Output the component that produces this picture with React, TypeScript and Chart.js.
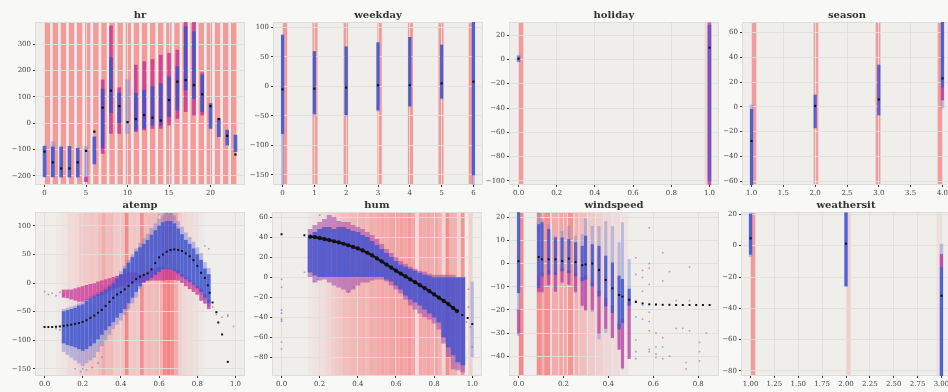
import { useEffect, useRef } from 'react';
import { Chart, registerables } from 'chart.js';
Chart.register(...registerables);

// ---------------- data: hr ----------------
const HR_X = [0, 1, 2, 3, 4, 5, 6, 7, 8, 9, 10, 11, 12, 13, 14, 15, 16, 17, 18, 19, 20, 21, 22, 23];
const HR_MEAN = [-108, -149, -172, -172, -149, -105, -32, 59, 124, 65, 4, 16, 31, 21, 10, 88, 158, 164, 145, 110, 65, 16, -48, -119];
const HR_BLUE_LO = [-204, -204, -205, -205, -205, null, -155, -95, 40, 0, null, -26, -20, -7, -7, 25, 50, 126, 94, 44, -20, -51, -83, -108];
const HR_BLUE_HI = [-87, -90, -90, -88, -95, null, -52, 130, 250, 115, null, 114, 126, 139, 151, 177, 215, 367, 348, 183, 75, 18, -26, -45];
const HR_MAG_LO = [null, null, null, null, null, -222, null, -115, -39, -39, null, -32, -26, -20, -20, -7, 18, 44, 31, 31, null, null, null, null];
const HR_MAG_HI = [null, null, null, null, null, -205, null, 165, 370, 135, null, 221, 234, 243, 259, 266, 278, 386, 386, 192, null, null, null, null];
const HR_PALE_LO = [null, -204, null, null, null, -222, null, null, null, null, -39, null, null, null, null, null, null, null, null, null, null, null, null, null];
const HR_PALE_HI = [null, -70, null, null, null, -88, null, null, null, null, 165, null, null, null, null, null, null, null, null, null, null, null, null, null];
const HR_STRIPE_START = [0.02, 0.98, 1.95, 2.93, 3.9, 4.88, 5.86, 6.84, 7.81, 8.79, 9.77, 10.74, 11.72, 12.7, 13.67, 14.65, 15.63, 16.6, 17.58, 18.56, 19.53, 20.51, 21.49, 22.46];
const HR_STRIPE_END = [0.67, 1.63, 2.6, 3.58, 4.55, 5.53, 6.51, 7.49, 8.46, 9.44, 10.42, 11.39, 12.37, 13.35, 14.32, 15.3, 16.28, 17.25, 18.23, 19.21, 20.18, 21.16, 22.14, 23.11];
const HR_STRIPE_ALPHA = [0.7, 0.7, 0.7, 0.7, 0.7, 0.7, 0.7, 0.7, 0.7, 0.7, 0.7, 0.7, 0.7, 0.7, 0.7, 0.7, 0.7, 0.7, 0.7, 0.7, 0.7, 0.7, 0.7, 0.7];

// ---------------- data: weekday ----------------
const WD_X = [0, 1, 2, 3, 4, 5, 6];
const WD_MEAN = [-5, -4, -2, 2, 2, 5, 8];
const WD_BLUE_LO = [-80, -46, -48, -40, -33, -20, -150];
const WD_BLUE_HI = [87, 59, 67, 74, 83, 70, 110];
const WD_PALE_LO = [-167, -50, -50, -42, -35, -22, -167];
const WD_PALE_HI = [87, 59, 67, 74, 83, 70, 110];
const WD_STRIPE_START = [0, 0.94, 1.92, 2.98, 3.94, 4.9, 5.85];
const WD_STRIPE_END = [0.146, 1.1, 2.06, 3.12, 4.1, 5.06, 6.0];
const WD_STRIPE_ALPHA = [0.7, 0.7, 0.7, 0.7, 0.7, 0.7, 0.7];

// ---------------- data: holiday ----------------
const HO_X = [0, 1];
const HO_MEAN = [0.5, 9.6];
const HO_BLUE_LO = [-2, -100];
const HO_BLUE_HI = [3, 28];
const HO_MAG_LO = [null, -103];
const HO_MAG_HI = [null, 30];
const HO_STRIPE_START = [0, 0.975];
const HO_STRIPE_END = [0.025, 1.0];
const HO_STRIPE_ALPHA = [0.7, 0.2];

// ---------------- data: season ----------------
const SE_X = [1, 2, 3, 4];
const SE_MEAN = [-27.6, 0.7, 6, 23];
const SE_BLUE_LO = [-63, -17, -6.6, 16];
const SE_BLUE_HI = [-2, 9.6, 33.8, 69];
const SE_MAG_LO = [null, null, null, 5.5];
const SE_MAG_HI = [null, null, null, 16];
const SE_PALE_LO = [-63, null, null, -1];
const SE_PALE_HI = [1.5, null, null, 69];
const SE_STRIPE_START = [1.0, 1.975, 2.95, 3.925];
const SE_STRIPE_END = [1.075, 2.05, 3.025, 4.0];
const SE_STRIPE_ALPHA = [0.7, 0.65, 0.7, 0.7];

// ---------------- data: atemp ----------------
const AT_MEAN_X = [0, 0.02, 0.04, 0.06, 0.08, 0.1, 0.12, 0.14, 0.16, 0.18, 0.2, 0.22, 0.24, 0.26, 0.28, 0.3, 0.32, 0.34, 0.36, 0.38, 0.4, 0.42, 0.44, 0.46, 0.48, 0.5, 0.52, 0.54, 0.56, 0.58, 0.6, 0.62, 0.64, 0.66, 0.68, 0.7, 0.72, 0.74, 0.76, 0.78, 0.8, 0.82, 0.84, 0.855, 0.865, 0.88, 0.9, 0.91, 0.93, 0.96];
const AT_MEAN_Y = [-77, -77, -77, -76.5, -76, -75, -74, -73, -71.5, -70, -68, -65, -61, -57, -52, -47, -40, -33, -26, -20, -16, -11, -5, 1, 7, 11, 14, 17, 24, 35, 45, 50, 55, 58, 59, 58, 56, 52, 47, 40, 30, 18, 9, -4, -17, -34, -51, -69, -90, -138];
const AT_X = [0.1, 0.12, 0.14, 0.16, 0.18, 0.2, 0.22, 0.24, 0.26, 0.28, 0.3, 0.32, 0.34, 0.36, 0.38, 0.4, 0.42, 0.44, 0.46, 0.48, 0.5, 0.52, 0.54, 0.56, 0.58, 0.6, 0.62, 0.64, 0.66, 0.68, 0.7, 0.72, 0.74, 0.76, 0.78, 0.8, 0.82, 0.84, 0.86];
const AT_BLUE_LO = [-105, -108, -110, -112, -115, -118, -115, -110, -105, -98, -90, -82, -75, -68, -60, -52, -45, -35, -25, -15, -5, 2, 6, 10, 15, 20, 25, 25, 25, 22, 18, 12, 8, 3, -2, -8, -15, -25, -35];
const AT_BLUE_HI = [-50, -48, -46, -44, -40, -38, -32, -28, -24, -20, -16, -12, -6, 0, 8, 15, 25, 35, 45, 55, 62, 68, 75, 84, 92, 100, 106, 108, 108, 104, 95, 85, 75, 68, 60, 50, 40, 25, 15];
const AT_PALE_LO = [-120, -125, -130, -135, -140, -145, -140, -135, -130, -120, -110, -100, -90, -80, -72, -65, -55, -45, -35, -25, -10, 0, 5, 10, 15, 20, 25, 25, 25, 20, 15, 10, 5, 0, -5, -10, -20, -30, -40];
const AT_PALE_HI = [-46, -44, -42, -40, -36, -34, -28, -24, -20, -16, -12, -8, -2, 4, 12, 20, 30, 40, 50, 60, 70, 78, 86, 96, 104, 112, 118, 121, 121, 118, 108, 98, 88, 80, 72, 62, 52, 36, 26];
const AT_MAG_LO = [-25, -26, -28, -30, -32, -32, -30, -28, -25, -22, -20, -18, -14, -10, -8, -6, -4, -2, 0, 2, 0, 2, 4, 5, 5, 5, 5, 6, 6, 6, 5, 0, -5, -10, -15, -20, -30, -35, -45];
const AT_MAG_HI = [-12, -12, -12, -10, -8, -6, -4, -2, 0, 2, 4, 6, 8, 10, 12, 14, 16, 18, 18, 18, 15, 16, 20, 22, 25, 28, 28, 25, 25, 25, 22, 15, 10, 5, 0, -5, -10, -20, -30];
const AT_SPARSE_BLUE_X = [0.06, 0.08, 0.16, 0.19, 0.22, 0.28, 0.3, 0.82, 0.86, 0.9, 0.96, 0.99, 0.86, 0.6, 0.64, 0.66];
const AT_SPARSE_BLUE_Y = [-80, -82, -150, -155, -152, -140, -130, -30, -40, -55, -58, -76, 60, 120, 122, 121];
const AT_SPARSE_MAG_X = [0, 0.02, 0.04, 0.06, 0.08, 0.1, 0.2, 0.25, 0.84, 0.88, 0.93, 0.96, 0.84];
const AT_SPARSE_MAG_Y = [-15, -20, -18, -22, -16, -20, -150, -148, -35, -42, -60, -56, 65];
const AT_EDGES = [0.06, 0.08, 0.1, 0.12, 0.14, 0.16, 0.18, 0.2, 0.22, 0.24, 0.26, 0.28, 0.3, 0.32, 0.34, 0.36, 0.38, 0.4, 0.42, 0.44, 0.46, 0.48, 0.5, 0.52, 0.54, 0.56, 0.58, 0.6, 0.62, 0.64, 0.66, 0.68, 0.7, 0.72, 0.74, 0.76, 0.78, 0.8, 0.82, 0.84];
const AT_DENSITY = [0.04, 0.06, 0.08, 0.15, 0.15, 0.2, 0.28, 0.3, 0.3, 0.35, 0.3, 0.4, 0.55, 0.4, 0.45, 0.3, 0.3, 0.35, 0.85, 0.3, 0.35, 0.3, 0.8, 0.4, 0.45, 0.4, 0.45, 0.5, 0.85, 0.9, 0.8, 0.55, 0.25, 0.2, 0.15, 0.15, 0.1, 0.06, 0.03];

// ---------------- data: hum ----------------
const HU_LINE_X = [0.15, 0.175, 0.2, 0.225, 0.25, 0.275, 0.3, 0.325, 0.35, 0.375, 0.4, 0.425, 0.45, 0.475, 0.5, 0.525, 0.55, 0.575, 0.6, 0.625, 0.65, 0.675, 0.7, 0.725, 0.75, 0.775, 0.8, 0.825, 0.85, 0.875, 0.9, 0.92];
const HU_LINE_Y = [40.6, 40.2, 39.2, 38.2, 37.2, 36, 34.8, 33.5, 32, 30.3, 28.8, 26.8, 24.5, 21.8, 18.8, 15.8, 12.6, 9.5, 6.5, 3.5, 0.8, -2.2, -5, -8, -11, -14, -17.3, -20.5, -23.8, -27, -31, -34];
const HU_DOT_X = [0, 0.12, 0.948, 0.976, 1.0];
const HU_DOT_Y = [43, 42, -38, -41, -47];
const HU_X = [0.15, 0.175, 0.2, 0.225, 0.25, 0.275, 0.3, 0.325, 0.35, 0.375, 0.4, 0.425, 0.45, 0.475, 0.5, 0.525, 0.55, 0.575, 0.6, 0.625, 0.65, 0.675, 0.7, 0.725, 0.75, 0.775, 0.8, 0.825, 0.85, 0.875, 0.9, 0.925, 0.95];
const HU_BLUE_LO = [5, 2, 0, 0, 0, 0, 0, 0, 0, 0, 0, 0, 0, 0, 0, 0, -2, -4, -8, -12, -18, -22, -25, -28, -32, -36, -40, -45, -60, -70, -78, -85, -88];
const HU_BLUE_HI = [40, 45, 48, 50, 50, 48, 50, 50, 48, 46, 45, 42, 40, 36, 32, 28, 24, 20, 16, 12, 10, 8, 6, 4, 2, 1, 0, 0, 0, 0, 0, 0, 0];
const HU_MAG_LO = [0, -5, -3, -2, -5, -8, -10, -12, -15, -12, -8, -5, -5, -3, -2, -2, -4, -8, -12, -16, -22, -28, -32, -36, -40, -42, -46, -52, -66, -80, -92, -93, -95];
const HU_MAG_HI = [48, 52, 55, 58, 62, 60, 56, 55, 55, 52, 50, 48, 45, 42, 38, 33, 28, 24, 20, 16, 13, 10, 8, 6, 5, 3, 2, 2, 2, 2, 2, 0, 0];
const HU_PALE_X = [1.0];
const HU_PALE_LO = [-80];
const HU_PALE_HI = [-5];
const HU_SPARSE_BLUE_X = [0, 0, 0, 0, 0, 0.12, 0.17, 0.19, 0.35, 0.38, 0.98, 1.0, 0.97];
const HU_SPARSE_BLUE_Y = [-2, -33, -36, -44, -72, 5, -4, -2, -15, -10, -30, -70, -45];
const HU_SPARSE_MAG_X = [0, 0, 0, 0.98, 0.99, 0.16, 0.2];
const HU_SPARSE_MAG_Y = [-10, -42, -65, -12, -50, 30, 62];
const HU_EDGES = [0.14, 0.16, 0.18, 0.2, 0.22, 0.24, 0.26, 0.28, 0.3, 0.32, 0.34, 0.36, 0.38, 0.4, 0.42, 0.44, 0.46, 0.48, 0.5, 0.52, 0.54, 0.56, 0.58, 0.6, 0.62, 0.64, 0.66, 0.68, 0.7, 0.72, 0.74, 0.76, 0.78, 0.8, 0.82, 0.84, 0.86, 0.88, 0.9, 0.92, 0.94, 0.96, 0.98, 1.0];
const HU_DENSITY = [0.05, 0.08, 0.1, 0.12, 0.15, 0.2, 0.25, 0.3, 0.35, 0.4, 0.4, 0.45, 0.45, 0.5, 0.5, 0.45, 0.55, 0.5, 0.55, 0.6, 0.55, 0.6, 0.65, 0.6, 0.65, 0.6, 0.7, 0.6, 0.15, 0.6, 0.55, 0.6, 0.55, 0.6, 0.5, 0.2, 0.8, 0.5, 0.5, 0.2, 0.75, 0, 0.25];

// ---------------- data: windspeed ----------------
const WS_MEAN_X = [0, 0.0896, 0.1045, 0.1343, 0.1642, 0.194, 0.2239, 0.2537, 0.2836, 0.2985, 0.3284, 0.3582, 0.3881, 0.4179, 0.4478, 0.4627, 0.4925, 0.5224, 0.5522, 0.5821, 0.612, 0.6418, 0.6717, 0.7015, 0.7313, 0.7612, 0.791, 0.8209, 0.8507];
const WS_MEAN_Y = [1, 2.8, 1.8, 1.8, 1.8, 1.1, 2.1, 0.6, -0.7, -0.4, 0, -2.8, -7.1, -10.7, -13.6, -14.3, -15.7, -16.6, -17.2, -17.6, -17.7, -17.8, -17.8, -17.9, -17.9, -17.9, -17.9, -17.9, -17.9];
const WS_X = [0, 0.0896, 0.1045, 0.1343, 0.1642, 0.194, 0.2239, 0.2537, 0.2836, 0.2985, 0.3284, 0.3582, 0.3881, 0.4179, 0.4478, 0.4627, 0.4925];
const WS_BLUE_LO = [-12.6, -10.4, -5.4, -4.7, -4.7, -3.2, -4, -5.4, -7.5, -6.8, -9.7, -14, -18.3, -21.2, -28.3, -25.5, -18];
const WS_BLUE_HI = [21.9, 16.8, 17.6, 14.7, 11.1, 11.1, 10.4, 9, 7.5, 11.8, 8.2, 7.5, 3.2, 0.3, -5.4, -6.8, -11];
const WS_MAG_LO = [-30, -12, -12, -9, -12, -8, -9, -12, -18, -20, -20, -30, -28, -32, -37, -45, -41];
const WS_MAG_HI = [-20, -6, -4, -3, -4, -2, -3, -4, -6, -5, -8, -12, -15, -18, -26, -24, -15];
const WS_PALE_LO = [-31, -12.6, -12.6, -9.7, -12, -8.5, -9, -12.6, -18.3, -20, -20.7, -32.6, -29.8, -32, -37, -45.6, -41];
const WS_PALE_HI = [22.5, 21.9, 19, 16.8, 11.8, 13.9, 16, 11.8, 12.5, 19.3, 16, 16, 18, 16, 9, 17.6, 1.8];
const WS_SPARSE_BLUE_X = [0.522, 0.522, 0.522, 0.552, 0.552, 0.582, 0.582, 0.582, 0.582, 0.612, 0.642, 0.642, 0.702, 0.731, 0.746, 0.761, 0.761, 0.806, 0.836];
const WS_SPARSE_BLUE_Y = [-4.7, -23, -38, -6, -18, 0, -9, -25, -37, -36, -7.5, -36, -16, -28, -42.7, -16, -29, -38, -30];
const WS_SPARSE_MAG_X = [0.522, 0.522, 0.522, 0.522, 0.552, 0.552, 0.552, 0.582, 0.582, 0.582, 0.582, 0.582, 0.612, 0.612, 0.612, 0.642, 0.642, 0.642, 0.672, 0.672, 0.702, 0.746, 0.761, 0.806, 0.806];
const WS_SPARSE_MAG_Y = [2.5, -16, -33, -41, -3, -12, -24, 15.4, -2, -21, -29, -38, -30, -39, -40.5, 4.6, -32, -41, -3.5, -40, -28, -45.5, -1.5, -34, -42];
const WS_STRIPE_START = [0, 0.081, 0.104, 0.114, 0.148, 0.181, 0.219, 0.249, 0.27, 0.308, 0.344, 0.381, 0.418, 0.455];
const WS_STRIPE_END = [0.022, 0.104, 0.114, 0.141, 0.178, 0.215, 0.244, 0.267, 0.304, 0.341, 0.378, 0.415, 0.452, 0.489];
const WS_STRIPE_ALPHA = [0.85, 0.8, 0.5, 0.8, 0.55, 0.6, 0.75, 0.5, 0.4, 0.3, 0.25, 0.2, 0.15, 0.08];

// ---------------- data: weathersit ----------------
const WE_X = [1, 2, 3];
const WE_MEAN = [4.7, 1.3, -32];
const WE_BLUE_LO = [-5.5, -25.7, -83];
const WE_BLUE_HI = [20, 21, -14];
const WE_MAG_LO = [null, null, -14];
const WE_MAG_HI = [null, null, -5.5];
const WE_PALE_LO = [-7, -26, -83];
const WE_PALE_HI = [21, 21, 1];
const WE_STRIPE_START = [1.0, 2.0, 2.95];
const WE_STRIPE_END = [1.05, 2.05, 3.0];
const WE_STRIPE_ALPHA = [0.7, 0.25, 0.12];

// ---------------- style ----------------
const SERIF = "'DejaVu Serif', 'Liberation Serif', serif";
const FIG_BG = '#f8f8f6';
const PLOT_BG = '#efeeeb';
const GRID = 'rgba(224,223,219,0.9)';
const FRAME = '#dddcd8';
const STRIPE_RGB = '243,120,120';
const BLUE = 'rgba(60,82,208,0.85)';
const MAGENTA = 'rgba(196,42,150,0.75)';
const PALE = 'rgba(125,135,220,0.45)';
const MEAN_C = '#111111';
const Y_AXIS_W = 36;
const X_AXIS_H = 14;
const PLOT_W = 210;
const CANVAS_W = 252;

type Num = number | null;

function cols(xs: number[], lo: Num[], hi: Num[], color: string, thick: number, order: number) {
  const data: any[] = [];
  xs.forEach((x, i) => {
    const a = lo[i];
    const b = hi[i];
    if (a != null && b != null) data.push({ x, y: [a, b] });
  });
  return { type: 'bar', data, backgroundColor: color, borderWidth: 0, barThickness: thick, grouped: false, order };
}
function dots(xs: number[], ys: number[], color: string, r: number, order: number, style = 'circle') {
  return {
    type: 'scatter',
    data: xs.map((x, i) => ({ x, y: ys[i] })),
    backgroundColor: color,
    borderColor: color,
    borderWidth: 0,
    pointRadius: r,
    pointStyle: style,
    showLine: false,
    order,
  };
}
function curve(xs: number[], ys: number[], color: string, w: number, r: number, order: number) {
  return {
    type: 'scatter',
    data: xs.map((x, i) => ({ x, y: ys[i] })),
    backgroundColor: color,
    borderColor: color,
    borderWidth: w,
    pointRadius: r,
    showLine: true,
    order,
  };
}
function fromEdges(edges: number[], density: number[]) {
  return { start: edges.slice(0, density.length), end: edges.slice(1, density.length + 1), alpha: density };
}

type Stripes = { start: number[]; end: number[]; alpha: number[] };
type Spec = {
  title: string;
  left: number;
  top: number;
  plotH: number;
  xr: [number, number, number, number];
  yr: [number, number, number];
  stripes: Stripes;
  datasets: any[];
};

const ROW1_TOP = 0;
const ROW2_TOP = 190;

const SPECS: Spec[] = [
  {
    title: 'hr', left: 35, top: ROW1_TOP, plotH: 163, xr: [-1.15, 24.15, 5, 0], yr: [-235, 385, 100],
    stripes: { start: HR_STRIPE_START, end: HR_STRIPE_END, alpha: HR_STRIPE_ALPHA },
    datasets: [
      dots(HR_X, HR_MEAN, MEAN_C, 1.6, 0, 'rect'),
      cols(HR_X, HR_BLUE_LO, HR_BLUE_HI, BLUE, 3, 2),
      cols(HR_X, HR_MAG_LO, HR_MAG_HI, MAGENTA, 3, 3),
      cols(HR_X, HR_PALE_LO, HR_PALE_HI, PALE, 4, 4),
    ],
  },
  {
    title: 'weekday', left: 273, top: ROW1_TOP, plotH: 163, xr: [-0.3, 6.3, 1, 0], yr: [-167, 109, 50],
    stripes: { start: WD_STRIPE_START, end: WD_STRIPE_END, alpha: WD_STRIPE_ALPHA },
    datasets: [
      dots(WD_X, WD_MEAN, MEAN_C, 1.5, 0, 'rect'),
      cols(WD_X, WD_BLUE_LO, WD_BLUE_HI, BLUE, 2.5, 2),
      cols(WD_X, WD_PALE_LO, WD_PALE_HI, PALE, 2.5, 4),
    ],
  },
  {
    title: 'holiday', left: 509, top: ROW1_TOP, plotH: 163, xr: [-0.05, 1.05, 0.2, 1], yr: [-103.3, 30.7, 20],
    stripes: { start: HO_STRIPE_START, end: HO_STRIPE_END, alpha: HO_STRIPE_ALPHA },
    datasets: [
      dots(HO_X, HO_MEAN, MEAN_C, 1.5, 0, 'rect'),
      cols(HO_X, HO_BLUE_LO, HO_BLUE_HI, 'rgba(60,82,208,0.6)', 3, 2),
      cols(HO_X, HO_MAG_LO, HO_MAG_HI, MAGENTA, 3, 3),
    ],
  },
  {
    title: 'season', left: 742, top: ROW1_TOP, plotH: 163, xr: [0.85, 4.15, 0.5, 1], yr: [-63.2, 68.6, 20],
    stripes: { start: SE_STRIPE_START, end: SE_STRIPE_END, alpha: SE_STRIPE_ALPHA },
    datasets: [
      dots(SE_X, SE_MEAN, MEAN_C, 1.5, 0, 'rect'),
      cols(SE_X, SE_MAG_LO, SE_MAG_HI, MAGENTA, 2.5, 1),
      cols(SE_X, SE_BLUE_LO, SE_BLUE_HI, BLUE, 2.5, 2),
      cols(SE_X, SE_PALE_LO, SE_PALE_HI, PALE, 3, 4),
    ],
  },
  {
    title: 'atemp', left: 35, top: ROW2_TOP, plotH: 164, xr: [-0.05, 1.05, 0.2, 1], yr: [-162.8, 124.5, 50],
    stripes: fromEdges(AT_EDGES, AT_DENSITY),
    datasets: [
      dots(AT_MEAN_X, AT_MEAN_Y, MEAN_C, 1.4, 0, 'rect'),
      dots(AT_SPARSE_BLUE_X, AT_SPARSE_BLUE_Y, 'rgba(90,105,215,0.6)', 1.1, 1, 'rect'),
      dots(AT_SPARSE_MAG_X, AT_SPARSE_MAG_Y, 'rgba(196,42,150,0.55)', 1.1, 1, 'rect'),
      cols(AT_X, AT_BLUE_LO, AT_BLUE_HI, 'rgba(60,82,208,0.8)', 3, 2),
      cols(AT_X, AT_MAG_LO, AT_MAG_HI, 'rgba(196,42,150,0.7)', 3, 3),
      cols(AT_X, AT_PALE_LO, AT_PALE_HI, 'rgba(110,125,215,0.45)', 3, 4),
    ],
  },
  {
    title: 'hum', left: 272, top: ROW2_TOP, plotH: 164, xr: [-0.05, 1.05, 0.2, 1], yr: [-99, 65.3, 20],
    stripes: fromEdges(HU_EDGES, HU_DENSITY),
    datasets: [
      curve(HU_LINE_X, HU_LINE_Y, MEAN_C, 2.2, 1, 0),
      dots(HU_DOT_X, HU_DOT_Y, MEAN_C, 1.4, 0, 'rect'),
      dots(HU_SPARSE_BLUE_X, HU_SPARSE_BLUE_Y, 'rgba(90,105,215,0.6)', 1.1, 1, 'rect'),
      dots(HU_SPARSE_MAG_X, HU_SPARSE_MAG_Y, 'rgba(196,42,150,0.55)', 1.1, 1, 'rect'),
      cols(HU_X, HU_BLUE_LO, HU_BLUE_HI, 'rgba(60,82,208,0.78)', 4.2, 2),
      cols(HU_X, HU_MAG_LO, HU_MAG_HI, 'rgba(160,70,175,0.55)', 4.2, 3),
      cols(HU_PALE_X, HU_PALE_LO, HU_PALE_HI, PALE, 2.5, 4),
    ],
  },
  {
    title: 'windspeed', left: 509, top: ROW2_TOP, plotH: 164, xr: [-0.0425, 0.8925, 0.2, 1], yr: [-48.5, 22.2, 10],
    stripes: { start: WS_STRIPE_START, end: WS_STRIPE_END, alpha: WS_STRIPE_ALPHA },
    datasets: [
      dots(WS_MEAN_X, WS_MEAN_Y, MEAN_C, 1.4, 0, 'rect'),
      dots(WS_SPARSE_BLUE_X, WS_SPARSE_BLUE_Y, 'rgba(90,105,215,0.6)', 1.1, 1, 'rect'),
      dots(WS_SPARSE_MAG_X, WS_SPARSE_MAG_Y, 'rgba(196,42,150,0.55)', 1.1, 1, 'rect'),
      cols(WS_X, WS_BLUE_LO, WS_BLUE_HI, 'rgba(60,82,208,0.8)', 2.5, 2),
      cols(WS_X, WS_MAG_LO, WS_MAG_HI, 'rgba(196,42,150,0.6)', 2.5, 3),
      cols(WS_X, WS_PALE_LO, WS_PALE_HI, PALE, 2.5, 4),
    ],
  },
  {
    title: 'weathersit', left: 741, top: ROW2_TOP, plotH: 164, xr: [0.9, 3.1, 0.25, 2], yr: [-83.2, 21.5, 20],
    stripes: { start: WE_STRIPE_START, end: WE_STRIPE_END, alpha: WE_STRIPE_ALPHA },
    datasets: [
      dots(WE_X, WE_MEAN, MEAN_C, 1.5, 0, 'rect'),
      cols(WE_X, WE_MAG_LO, WE_MAG_HI, MAGENTA, 2.5, 1),
      cols(WE_X, WE_BLUE_LO, WE_BLUE_HI, BLUE, 2.5, 2),
      cols(WE_X, WE_PALE_LO, WE_PALE_HI, PALE, 3, 4),
    ],
  },
];

function axis(min: number, max: number, step: number, dec: number, isX: boolean) {
  return {
    type: 'linear',
    min,
    max,
    offset: false,
    beginAtZero: false,
    afterFit: (s: any) => {
      if (isX) s.height = X_AXIS_H;
      else s.width = Y_AXIS_W;
    },
    grid: { offset: false, color: GRID, lineWidth: 1, drawTicks: true, tickLength: 2, tickColor: '#3a3a3a', tickWidth: 1 },
    border: { display: false },
    ticks: {
      stepSize: step,
      includeBounds: false,
      autoSkip: false,
      maxRotation: 0,
      minRotation: 0,
      padding: 2,
      color: '#444',
      font: { family: SERIF, size: 7 },
      callback: (v: any) => {
        let n = Number(v);
        if (Math.abs(n) < 1e-9) n = 0;
        return n.toFixed(dec).replace('-', '\u2212');
      },
    },
  };
}

function Panel({ spec }: { spec: Spec }) {
  const ref = useRef<HTMLCanvasElement>(null);
  const H = 22 + spec.plotH + X_AXIS_H;
  useEffect(() => {
    const cv = ref.current;
    if (!cv) return;
    const plugin = {
      id: 'panelDecor',
      beforeDraw(chart: any) {
        const { ctx, chartArea: a, scales } = chart;
        const xs = scales.x;
        ctx.save();
        ctx.fillStyle = PLOT_BG;
        ctx.fillRect(a.left, a.top, a.right - a.left, a.bottom - a.top);
        ctx.beginPath();
        ctx.rect(a.left, a.top, a.right - a.left, a.bottom - a.top);
        ctx.clip();
        const st = spec.stripes;
        st.start.forEach((s, i) => {
          const al = st.alpha[i];
          if (!al) return;
          const x0 = xs.getPixelForValue(s);
          const x1 = xs.getPixelForValue(st.end[i]);
          ctx.fillStyle = `rgba(${STRIPE_RGB},${al})`;
          ctx.fillRect(x0, a.top, x1 - x0, a.bottom - a.top);
        });
        ctx.restore();
      },
      beforeDatasetsDraw(chart: any) {
        const { ctx, chartArea: a } = chart;
        ctx.save();
        ctx.strokeStyle = FRAME;
        ctx.lineWidth = 1;
        ctx.strokeRect(a.left + 0.5, a.top + 0.5, a.right - a.left - 1, a.bottom - a.top - 1);
        ctx.restore();
      },
      afterDraw(chart: any) {
        const { ctx, chartArea: a } = chart;
        ctx.save();
        ctx.font = `bold 10px ${SERIF}`;
        ctx.fillStyle = '#333';
        ctx.textAlign = 'center';
        ctx.textBaseline = 'alphabetic';
        ctx.fillText(spec.title, (a.left + a.right) / 2, a.top - 4);
        ctx.restore();
      },
    };
    const chart = new Chart(cv, {
      type: 'scatter',
      data: { datasets: spec.datasets as any },
      options: {
        animation: false,
        responsive: false,
        maintainAspectRatio: false,
        events: [],
        layout: { padding: { top: 22, left: 0, right: CANVAS_W - Y_AXIS_W - PLOT_W, bottom: 0 } },
        plugins: { legend: { display: false }, tooltip: { enabled: false }, title: { display: false } },
        scales: {
          x: axis(spec.xr[0], spec.xr[1], spec.xr[2], spec.xr[3], true) as any,
          y: axis(spec.yr[0], spec.yr[1], spec.yr[2], 0, false) as any,
        },
      } as any,
      plugins: [plugin],
    });
    return () => chart.destroy();
  }, []);
  return (
    <canvas
      ref={ref}
      width={CANVAS_W}
      height={H}
      style={{ position: 'absolute', left: spec.left - Y_AXIS_W, top: spec.top, width: CANVAS_W, height: H }}
    />
  );
}

export default function App() {
  return (
    <div
      style={{
        position: 'fixed',
        left: 0,
        top: 0,
        width: 948,
        height: 392,
        overflow: 'hidden',
        background: FIG_BG,
      }}
    >
      {SPECS.map((s) => (
        <Panel key={s.title} spec={s} />
      ))}
    </div>
  );
}
